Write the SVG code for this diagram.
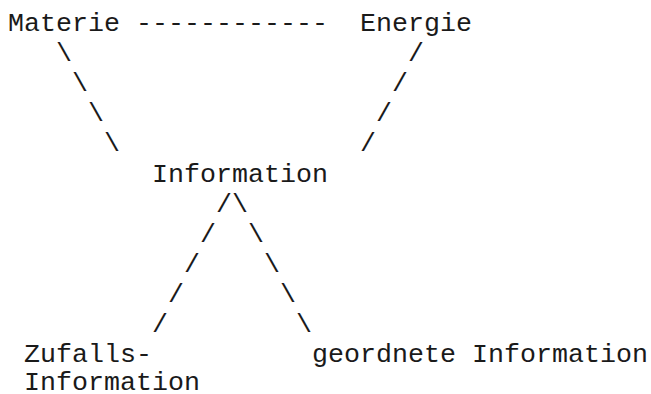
<svg xmlns="http://www.w3.org/2000/svg" width="651" height="394" viewBox="0 0 651 394">
<style>
text { font-family: "Liberation Mono", "Courier New", monospace; font-size: 26.67px; fill: #1a1a1a; white-space: pre; }
</style>
<rect width="651" height="394" fill="#fff"/>
<g id="connectors">
  <text x="136" y="31">------------</text>
  <text x="56" y="61">\</text>
  <text x="72" y="91">\</text>
  <text x="88" y="121">\</text>
  <text x="104" y="151">\</text>
  <text x="408" y="61">/</text>
  <text x="392" y="91">/</text>
  <text x="376" y="121">/</text>
  <text x="360" y="151">/</text>
  <text x="216" y="212">/</text>
  <text x="232" y="212">\</text>
  <text x="200" y="242">/</text>
  <text x="248" y="242">\</text>
  <text x="184" y="272">/</text>
  <text x="264" y="272">\</text>
  <text x="168" y="302">/</text>
  <text x="280" y="302">\</text>
  <text x="152" y="332">/</text>
  <text x="296" y="332">\</text>
</g>
<g id="materie"><text x="8" y="31">Materie</text></g>
<g id="energie"><text x="360" y="31">Energie</text></g>
<g id="information"><text x="152" y="182">Information</text></g>
<g id="zufalls-information"><text x="24" y="362">Zufalls-</text><text x="24" y="390">Information</text></g>
<g id="geordnete-information"><text x="312" y="362">geordnete Information</text></g>
</svg>
